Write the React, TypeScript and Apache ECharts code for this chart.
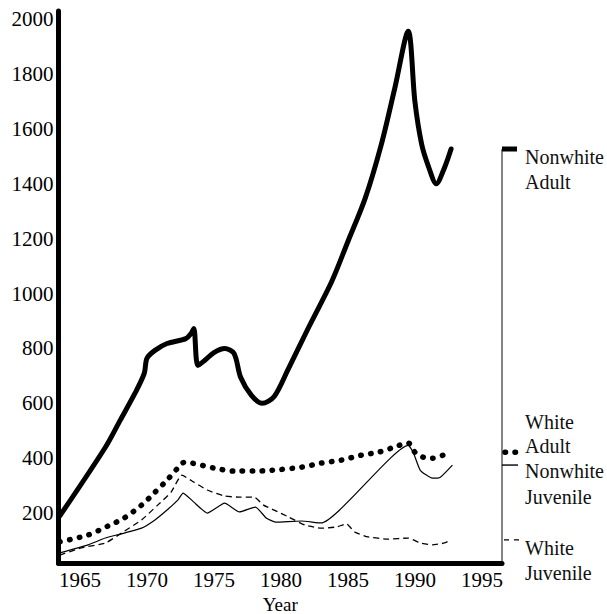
import React, { useEffect, useRef } from "react";
import * as echarts from "echarts";

const yTickLabels = [200, 400, 600, 800, 1000, 1200, 1400, 1600, 1800, 2000];
const xTickLabels = [1965, 1970, 1975, 1980, 1985, 1990, 1995];

const nonwhiteAdultYears = [1963.5, 1966.9, 1968.0, 1969.1, 1969.8, 1970.0, 1970.6, 1971.5, 1972.9, 1973.3, 1973.5, 1973.8, 1974.3, 1975.0, 1975.8, 1976.5, 1977.0, 1977.8, 1978.6, 1979.5, 1980.5, 1982.1, 1983.8, 1985.0, 1986.3, 1987.5, 1988.5, 1989.5, 1990.0, 1990.5, 1991.0, 1991.6, 1992.2, 1992.7];
const nonwhiteAdultValues = [190, 440, 538, 636, 709, 764, 793, 818, 836, 855, 873, 738, 756, 785, 800, 782, 694, 629, 600, 625, 720, 880, 1045, 1190, 1349, 1545, 1749, 1956, 1700, 1545, 1465, 1400, 1458, 1527];

const whiteAdultYears = [1963.5, 1965.6, 1967.1, 1968.3, 1969.6, 1970.6, 1971.5, 1972.3, 1972.8, 1975.0, 1976.5, 1978.0, 1979.3, 1981.5, 1983.0, 1984.5, 1986.0, 1987.3, 1988.2, 1989.5, 1990.0, 1990.6, 1991.3, 1992.1, 1992.7];
const whiteAdultValues = [95, 120, 153, 182, 229, 276, 320, 364, 385, 364, 353, 353, 356, 367, 382, 393, 411, 422, 436, 455, 422, 404, 400, 411, 422];

const nonwhiteJuvenileYears = [1963.5, 1965.6, 1966.9, 1968.3, 1969.6, 1970.6, 1971.5, 1972.3, 1972.7, 1973.5, 1974.5, 1975.8, 1976.9, 1978.1, 1978.9, 1979.6, 1981.5, 1983.0, 1989.5, 1989.9, 1990.4, 1991.3, 1991.9, 1992.8];
const nonwhiteJuvenileValues = [55, 84, 109, 127, 145, 175, 211, 247, 273, 240, 200, 236, 204, 222, 182, 167, 171, 164, 447, 418, 356, 327, 331, 375];

const whiteJuvenileYears = [1963.5, 1965.1, 1966.9, 1968.1, 1969.6, 1970.8, 1971.8, 1972.6, 1973.5, 1974.5, 1975.8, 1977.0, 1978.0, 1978.7, 1979.5, 1980.6, 1981.8, 1983.0, 1984.1, 1984.9, 1985.5, 1986.5, 1988.0, 1989.5, 1990.4, 1991.3, 1992.2, 1992.7];
const whiteJuvenileValues = [47, 73, 91, 127, 175, 229, 276, 338, 313, 284, 262, 258, 258, 229, 211, 185, 156, 145, 149, 160, 131, 113, 105, 109, 91, 84, 91, 102];

const zip = (xs: number[], ys: number[]) => xs.map((x, i) => [x, ys[i]]);

const X_MIN = 1963.4;
const X_MAX = 1996.5;
const Y_MIN = 18;
const Y_MAX = 2030;
const FONT = "'Liberation Serif', 'DejaVu Serif', serif";

export default function App() {
  const ref = useRef<HTMLDivElement>(null);
  useEffect(() => {
    if (!ref.current) return;
    const chart = echarts.init(ref.current, undefined, { renderer: "svg" });
    chart.setOption({
      animation: false,
      backgroundColor: "#fff",
      grid: { left: 58.5, right: 105, top: 11, bottom: 51, containLabel: false, outerBoundsMode: "none" },
      xAxis: {
        type: "value",
        min: X_MIN,
        max: X_MAX,
        name: "Year",
        nameLocation: "middle",
        nameGap: 31,
        nameTextStyle: { fontFamily: FONT, fontSize: 19, color: "#000" },
        axisLine: { show: true, lineStyle: { color: "#000", width: 5 } },
        axisTick: { show: false },
        splitLine: { show: false },
        axisLabel: {
          customValues: xTickLabels,
          formatter: (v: number) => String(Math.round(v)),
          fontFamily: FONT,
          fontSize: 21,
          color: "#000",
          margin: 6,
        },
      },
      yAxis: {
        type: "value",
        min: Y_MIN,
        max: Y_MAX,
        axisLine: { show: true, lineStyle: { color: "#000", width: 5 } },
        axisTick: { show: false },
        splitLine: { show: false },
        axisLabel: {
          customValues: yTickLabels,
          formatter: (v: number) => String(Math.round(v)),
          fontFamily: FONT,
          fontSize: 21,
          color: "#000",
          margin: 5,
        },
      },
      series: [
        {
          name: "Nonwhite Adult",
          type: "line",
          data: zip(nonwhiteAdultYears, nonwhiteAdultValues),
          showSymbol: false,
          smooth: 0.3,
          lineStyle: { color: "#000", width: 5, join: "round", cap: "round" },
        },
        {
          name: "White Adult",
          type: "line",
          data: zip(whiteAdultYears, whiteAdultValues),
          showSymbol: false,
          smooth: 0.3,
          lineStyle: { color: "#000", width: 5.5, type: [0.5, 9.5], cap: "round" },
        },
        {
          name: "Nonwhite Juvenile",
          type: "line",
          data: zip(nonwhiteJuvenileYears, nonwhiteJuvenileValues),
          showSymbol: false,
          smooth: 0.15,
          lineStyle: { color: "#000", width: 1.2 },
        },
        {
          name: "White Juvenile",
          type: "line",
          data: zip(whiteJuvenileYears, whiteJuvenileValues),
          showSymbol: false,
          smooth: 0.15,
          lineStyle: { color: "#000", width: 1.3, type: [6, 4] },
        },
      ],
    });

    const px = (x: number, y: number) => chart.convertToPixel({ gridIndex: 0 }, [x, y]) as number[];
    const last = (a: number[]) => a[a.length - 1];
    const na = px(X_MAX, last(nonwhiteAdultValues));
    const wa = px(X_MAX, last(whiteAdultValues));
    const nj = px(X_MAX, last(nonwhiteJuvenileValues));
    const wj = px(X_MAX, last(whiteJuvenileValues));
    const bottom = px(X_MAX, Y_MIN);
    const x0 = na[0];
    const textX = x0 + 23;
    const textStyle = (t: string, y: number) => ({
      type: "text",
      x: textX,
      y,
      style: { text: t, fontFamily: FONT, fontSize: 20, fill: "#111", textVerticalAlign: "middle", verticalAlign: "middle" },
    });

    chart.setOption({
      graphic: [
        { type: "line", shape: { x1: x0, y1: na[1], x2: x0, y2: bottom[1] }, style: { stroke: "#333", lineWidth: 1.2 } },
        { type: "line", shape: { x1: x0, y1: na[1], x2: x0 + 15, y2: na[1] }, style: { stroke: "#000", lineWidth: 5 } },
        { type: "line", shape: { x1: x0 + 3, y1: wa[1], x2: x0 + 16, y2: wa[1] }, style: { stroke: "#000", lineWidth: 5.5, lineDash: [0.5, 9.5], lineCap: "round" } },
        { type: "line", shape: { x1: x0, y1: nj[1], x2: x0 + 16, y2: nj[1] }, style: { stroke: "#000", lineWidth: 1.4 } },
        { type: "line", shape: { x1: x0 + 2, y1: wj[1], x2: x0 + 17, y2: wj[1] }, style: { stroke: "#000", lineWidth: 1.3, lineDash: [5, 5] } },
        textStyle("Nonwhite", na[1] + 8),
        textStyle("Adult", na[1] + 33),
        textStyle("White", wa[1] - 30),
        textStyle("Adult", wa[1] - 6),
        textStyle("Nonwhite", nj[1] + 6),
        textStyle("Juvenile", nj[1] + 32),
        textStyle("White", wj[1] + 8),
        textStyle("Juvenile", wj[1] + 33),
      ],
    });

    return () => chart.dispose();
  }, []);
  return <div ref={ref} style={{ position: "fixed", left: 0, top: 0, width: 607, height: 614 }} />;
}
